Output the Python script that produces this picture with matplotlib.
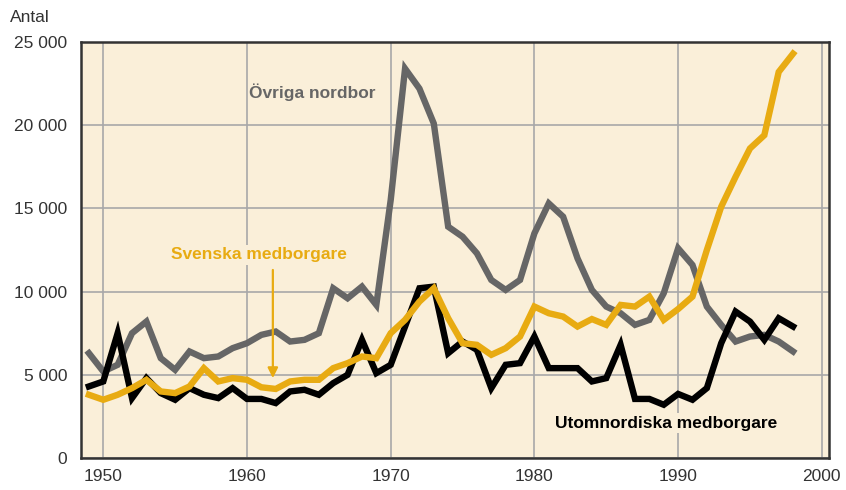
import matplotlib.pyplot as plt
from matplotlib.ticker import FuncFormatter

# Years and series (antal personer)
years = list(range(1949, 1999))

ovriga_nordbor = [
    6300, 5200, 5600, 7500, 8200, 6000, 5300, 6400, 6000, 6100,
    6600, 6900, 7400, 7600, 7000, 7100, 7500, 10200, 9600, 10300,
    9200, 15500, 23400, 22200, 20100, 13900, 13300, 12300, 10700, 10100,
    10700, 13500, 15300, 14500, 12000, 10100, 9100, 8700, 8000, 8300,
    9900, 12600, 11600, 9100, 8000, 7000, 7300, 7400, 7000, 6400,
]

utomnordiska = [
    4300, 4600, 7500, 3600, 4800, 3900, 3500, 4200, 3800, 3600,
    4200, 3550, 3550, 3300, 4000, 4100, 3800, 4500, 5000, 7100,
    5100, 5600, 7900, 10200, 10300, 6300, 7000, 6500, 4200, 5600,
    5700, 7300, 5400, 5400, 5400, 4600, 4800, 6800, 3550, 3550,
    3200, 3850, 3500, 4200, 6900, 8800, 8200, 7100, 8400, 7900,
]

svenska = [
    3800, 3500, 3800, 4200, 4700, 4000, 3900, 4300, 5400, 4600,
    4800, 4700, 4250, 4150, 4600, 4700, 4700, 5400, 5700, 6100,
    6000, 7500, 8300, 9400, 10200, 8400, 6900, 6800, 6200, 6600,
    7300, 9100, 8700, 8500, 7900, 8350, 8000, 9200, 9100, 9700,
    8300, 8950, 9700, 12500, 15100, 16900, 18600, 19400, 23200, 24300,
]

bg = '#faefd9'
grey = '#666666'
yellow = '#e8ab12'

plt.rcParams['font.family'] = ['Liberation Sans Narrow', 'Liberation Sans', 'DejaVu Sans']

fig = plt.figure(figsize=(8.46, 4.90), dpi=100)
ax = fig.add_axes([81 / 846, 32 / 490, 748 / 846, 416 / 490])
ax.set_facecolor(bg)

ax.plot(years, ovriga_nordbor, color=grey, lw=4.6, solid_joinstyle='miter', zorder=3)
ax.plot(years, utomnordiska, color='black', lw=4.6, solid_joinstyle='miter', zorder=3)
ax.plot(years, svenska, color=yellow, lw=4.6, solid_joinstyle='miter', zorder=4)

ax.set_xlim(1948.45, 2000.5)
ax.set_ylim(0, 25000)
ax.set_xticks([1950, 1960, 1970, 1980, 1990, 2000])
ax.set_yticks([0, 5000, 10000, 15000, 20000, 25000])
ax.yaxis.set_major_formatter(FuncFormatter(lambda v, p: f'{int(v):,}'.replace(',', ' ')))
ax.tick_params(length=0, labelsize=12.5, colors='#333333')
ax.tick_params(axis='x', pad=8)
ax.tick_params(axis='y', pad=10)
ax.grid(True, color='#a8a8a8', lw=1.2, zorder=1)
for s in ax.spines.values():
    s.set_color('#333333')
    s.set_linewidth(1.8)

box = dict(facecolor=bg, edgecolor='none', pad=2)
ax.text(1960.15, 22000, 'Övriga nordbor', color=grey, fontsize=12.5,
        fontweight='bold', ha='left', va='center', zorder=5)
ax.text(1960.8, 12200, 'Svenska medborgare', color=yellow, fontsize=12.5,
        fontweight='bold', ha='center', va='center', zorder=5, bbox=box)
ax.text(1989.2, 2100, 'Utomnordiska medborgare', color='black', fontsize=12.5,
        fontweight='bold', ha='center', va='center', zorder=5, bbox=box)
ax.annotate('', xy=(1961.8, 4800), xytext=(1961.8, 11300),
            arrowprops=dict(arrowstyle='-|>', color=yellow, lw=1.6,
                            mutation_scale=15, shrinkA=0, shrinkB=0), zorder=5)

fig.text(10 / 846, 1 - 18 / 490, 'Antal', fontsize=12.5, color='#333333',
         ha='left', va='center')

fig.savefig('out.png', dpi=100)
